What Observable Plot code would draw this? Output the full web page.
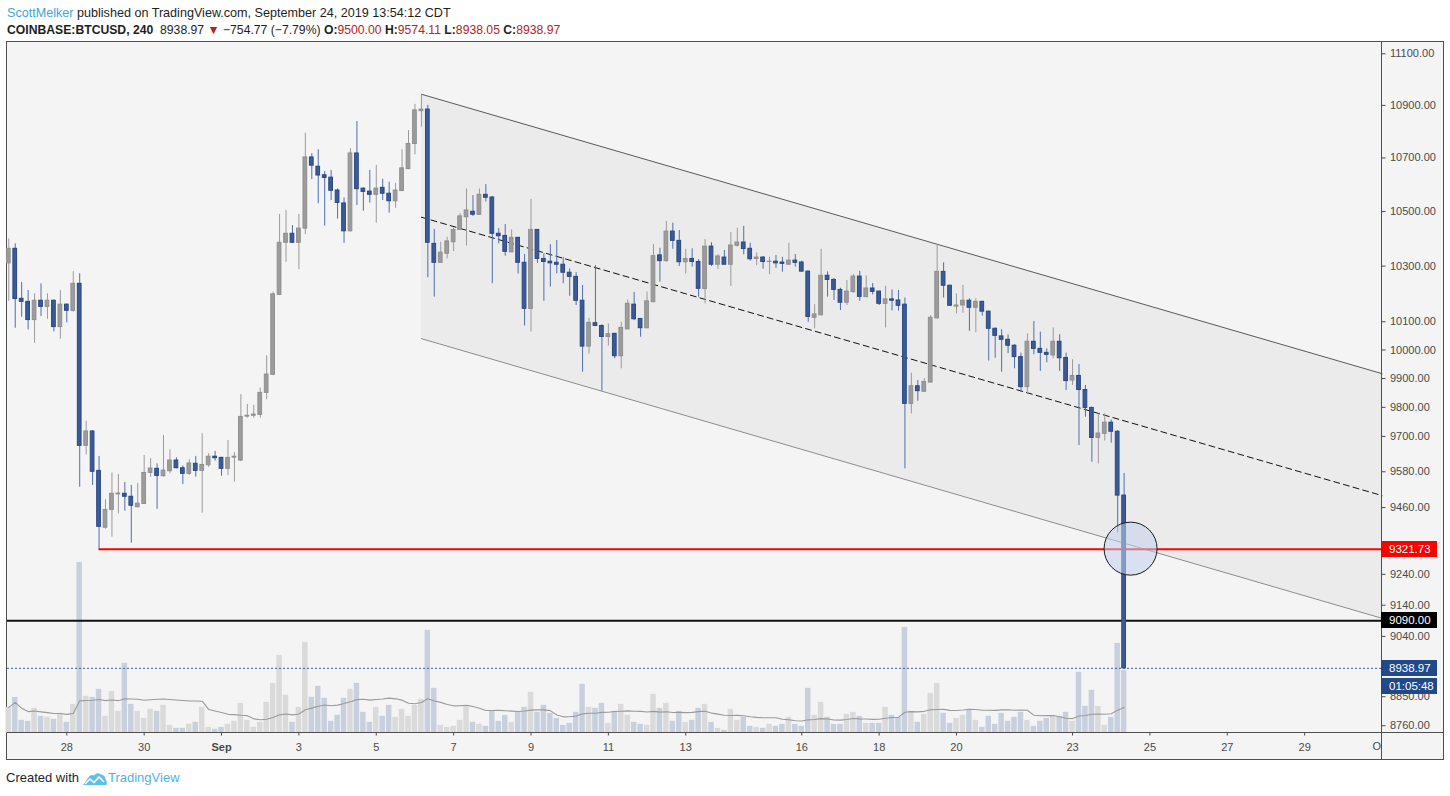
<!DOCTYPE html>
<html>
<head>
<meta charset="utf-8">
<script src="https://cdn.jsdelivr.net/npm/d3@7"></script>
<script src="https://cdn.jsdelivr.net/npm/@observablehq/plot@0.6"></script>
<style>
html,body{margin:0;padding:0;background:#fff;}
body{font-family:"Liberation Sans",Arial,sans-serif;}
#page{position:relative;width:1450px;height:796px;overflow:hidden;}
.line{position:absolute;left:7px;white-space:nowrap;line-height:16px;color:#1e1e1e;}
#frame{position:absolute;left:6px;top:41px;width:1436px;height:717px;border:1px solid #4f4f4f;background:#f4f4f4;}
.abs{position:absolute;}
.tag{position:absolute;left:1381px;width:56px;height:16px;line-height:16px;font-size:11.5px;color:#fff;padding-left:8px;box-sizing:border-box;white-space:nowrap;}
.red{color:#b52222;}
</style>
</head>
<body>
<div id="page">
  <div class="line" id="l1" style="top:5px;font-size:12.6px"></div>
  <div class="line" id="l2" style="top:22px;font-size:12.2px"></div>
  <div id="frame"></div>
  <div id="vol" class="abs" style="left:0;top:42px"></div>
  <div id="price" class="abs" style="left:0;top:42px"></div>
  <div class="abs" style="left:1381px;top:42px;width:1px;height:717px;background:#4f4f4f"></div>
  <div class="abs" style="left:7px;top:732px;width:1436px;height:1px;background:#4f4f4f"></div>
  <div id="edgeLabel" class="abs" style="left:0;top:733px;width:1381px;height:25px;"></div>
  <div id="tags"></div>
  <div class="abs" style="left:6px;top:770px;font-size:13px;line-height:16px;color:#1e1e1e;white-space:nowrap;display:flex;align-items:center;">
    <span>Created with</span>
    <svg width="26" height="15" viewBox="0 0 26 15" style="margin-left:3px">
      <path d="M1 14 L6 7 Q8 3 12 4.5 Q15 0.5 19 3.5 Q23 4 23.5 8 Q25.5 10 24.5 14 Z" fill="#5cc0ea"/>
      <path d="M3 13 L8 8 L12 11.5 L17 6 L22 11" fill="none" stroke="#fff" stroke-width="1.6"/>
    </svg>
    <span style="color:#4db3e6">TradingView</span>
  </div>
</div>
<script>
// ---------- data (4h candles, COINBASE:BTCUSD) ----------
const firstBarTime = "2019-08-26T12:00:00Z";
const barHours = 4;
const barOpen = [10310,10363,10182,10171,10106,10175,10153,10175,10081,10161,
10139,10236,9668,9717,9583,9393,9452,9504,9506,9496,
9461,9472,9576,9590,9565,9582,9618,9592,9573,9607,
9583,9602,9631,9627,9590,9628,9618,9768,9771,9774,
9850,9913,10196,10385,10418,10385,10437,10702,10667,10635,
10626,10578,10530,10427,10717,10585,10574,10562,10588,10566,
10538,10576,10658,10753,10878,10884,10381,10312,10345,10387,
10432,10479,10499,10488,10562,10552,10418,10410,10350,10403,
10312,10146,10432,10326,10316,10312,10305,10276,10261,10175,
10012,10095,10085,10046,10057,9978,10073,10161,10110,10077,
10170,10339,10318,10426,10392,10314,10326,10315,10217,10371,
10305,10331,10305,10374,10386,10363,10326,10331,10315,10316,
10313,10305,10320,10313,10280,10114,10123,10265,10250,10214,
10168,10206,10262,10188,10219,10208,10164,10180,10176,10161,
9812,9873,9854,9886,10112,10279,10229,10154,10158,10175,
10150,10171,10136,10075,10048,10036,10015,9975,9870,10029,
10004,9990,9981,10029,9972,9893,9909,9860,9798,9695,
9709,9747,9716,9500];
const barHigh = [10399,10381,10241,10212,10200,10236,10200,10178,10212,10164,
10280,10272,9752,9720,9632,9486,9576,9571,9544,9534,
9541,9635,9625,9607,9703,9654,9627,9600,9621,9632,
9709,9641,9649,9629,9686,9645,9844,9810,9807,9867,
9980,10206,10489,10504,10448,10489,10794,10716,10731,10649,
10653,10584,10550,10735,10838,10588,10653,10672,10620,10609,
10605,10731,10804,10904,10939,10900,10434,10387,10405,10439,
10492,10584,10559,10584,10600,10556,10437,10452,10432,10405,
10342,10545,10434,10345,10378,10393,10332,10290,10276,10230,
10112,10302,10089,10092,10059,10098,10178,10205,10111,10206,
10379,10365,10463,10457,10430,10361,10363,10324,10397,10385,
10342,10357,10423,10438,10445,10383,10348,10335,10332,10339,
10332,10383,10342,10318,10282,10161,10361,10279,10255,10220,
10248,10270,10281,10264,10237,10209,10227,10214,10212,10185,
9919,9893,9900,10122,10379,10312,10231,10200,10230,10182,
10182,10174,10138,10078,10072,10053,10019,9989,10057,10101,
10063,10004,10078,10054,9989,9966,9949,9876,9800,9777,
9778,9756,9720,9574.11];
const barLow = [10173,10077,10116,10071,10024,10119,10109,10064,10038,10096,
10134,9528,9637,9534,9321.73,9388,9362,9439,9448,9342,
9459,9470,9561,9454,9562,9573,9590,9537,9568,9562,
9441,9595,9616,9565,9567,9545,9614,9763,9763,9763,
9826,9910,10194,10314,10383,10287,10415,10619,10529,10446,
10541,10472,10383,10425,10522,10501,10531,10457,10541,10494,
10512,10574,10656,10712,10817,10258,10188,10310,10326,10353,
10430,10373,10482,10485,10535,10236,10381,10336,10349,10271,
10085,10063,10310,10173,10224,10272,10236,10191,10158,9922,
9985,10083,9856,10014,9969,9934,10072,10104,10045,10075,
10168,10242,10314,10361,10299,10271,10296,10188,10164,10299,
10288,10303,10227,10369,10341,10318,10302,10289,10269,10292,
10278,10303,10296,10278,10098,10075,10121,10188,10176,10140,
10158,10202,10173,10186,10196,10158,10078,10139,10138,9590,
9777,9821,9852,9884,10110,10185,10155,10128,10130,10066,
10061,10120,9961,9971,9922,9987,9934,9852,9847,9983,
9925,9955,9969,9925,9858,9876,9669,9766,9612,9607,
9684,9677,9376,8938.05];
const barClose = [10363,10181,10171,10106,10175,10153,10175,10081,10161,10139,
10236,9668,9717,9580,9396,9452,9506,9507,9496,9466,
9473,9576,9591,9566,9584,9618,9592,9573,9608,9583,
9603,9631,9626,9590,9627,9631,9767,9771,9775,9850,
9914,10198,10385,10418,10385,10437,10702,10671,10634,10625,
10577,10532,10427,10717,10583,10573,10562,10585,10566,10538,
10578,10661,10753,10881,10884,10385,10312,10349,10390,10432,
10482,10504,10488,10562,10551,10418,10409,10352,10403,10312,
10146,10432,10326,10315,10310,10305,10276,10261,10175,10012,
10096,10085,10046,10056,9978,10078,10164,10109,10077,10173,
10336,10318,10426,10392,10314,10326,10315,10218,10371,10305,
10335,10305,10375,10386,10362,10325,10331,10315,10316,10310,
10308,10320,10312,10280,10117,10126,10265,10250,10214,10168,
10208,10262,10189,10219,10207,10164,10180,10175,10157,9812,
9873,9856,9888,10114,10279,10229,10157,10158,10175,10150,
10171,10136,10075,10050,10036,10015,9975,9870,10029,10004,
9990,9983,10029,9971,9891,9909,9860,9798,9695,9710,
9747,9716,9500,8938.97];
const barVolume = [770,1070,380,350,740,500,470,410,590,320,
860,5120,1100,1070,1310,500,1250,650,2090,860,
650,440,710,650,830,230,140,140,260,320,
770,170,110,170,260,350,890,380,170,320,
920,1490,2330,1130,320,770,2720,1070,1400,1040,
350,530,1040,1310,1490,620,320,770,500,830,
470,710,500,830,1010,3080,1340,230,170,200,
380,770,320,260,200,650,350,530,320,620,
770,1220,620,830,590,440,230,290,620,1460,
770,740,890,290,650,860,530,320,260,230,
1160,740,890,350,650,320,380,740,860,320,
140,80,710,380,470,200,170,140,260,200,
260,470,260,200,1340,530,920,470,260,260,
560,620,500,290,290,290,770,530,470,3170,
650,320,560,1190,1490,590,290,440,530,710,
380,170,500,260,590,350,470,620,380,200,
350,440,500,500,620,350,1820,800,1280,800,
230,470,2690,1880];

const xDomainStart = "2019-08-26T11:12:00Z";
const xDomainEnd = "2019-10-01T00:00:00Z";
const priceDomain = [8737.6, 11144.3];
const volumeDomain = [0, 20715];
const priceTicks = [11100,10900,10700,10500,10300,10100,10000,9900,9800,9700,9580,9460,9340,9240,9140,9040,8950,8850,8760];
const dayTickDates = ["2019-08-28","2019-08-30","2019-09-01","2019-09-03","2019-09-05","2019-09-07","2019-09-09","2019-09-11","2019-09-13","2019-09-16","2019-09-18","2019-09-20","2019-09-23","2019-09-25","2019-09-27","2019-09-29","2019-10-01"];
const dayTickLabels = ["28","30","Sep","3","5","7","9","11","13","16","18","20","23","25","27","29","Oct"];

const channelDates = ["2019-09-06T04:00:00Z","2019-10-01T00:00:00Z"];
const channelUpper = [10943, 9917];
const channelMid = [10479, 9500];
const channelLower = [10040, 9098];
const supportLevel = 9321.73;
const supportStart = "2019-08-28T20:00:00Z";
const blackLevel = 9090;
const circleMark = [{date: "2019-09-24T12:00:00Z", price: 9324}];
const countdown = "01:05:48";
const symbolText = "COINBASE:BTCUSD, 240";
const changeText = "\u2212754.77 (\u22127.79%)";

// ---------- build tables ----------
const t0 = new Date(firstBarTime);
const hoff = (d, h) => new Date(+d + h * 3600e3);
const bars = barOpen.map((o, i) => ({
  date: hoff(t0, i * barHours),
  open: o, high: barHigh[i], low: barLow[i], close: barClose[i],
  volume: barVolume[i], up: barClose[i] >= o
}));
const channel = channelDates.map((d, i) => ({date: new Date(d), upper: channelUpper[i], mid: channelMid[i], lower: channelLower[i]}));
const circ = circleMark.map(d => ({date: new Date(d.date), price: d.price}));
const xStart = new Date(xDomainStart), xEnd = new Date(xDomainEnd);
const tickDates = dayTickDates.map(d => new Date(d + "T00:00:00Z"));
const labelMap = new Map(tickDates.map((d, i) => [+d, dayTickLabels[i]]));
const last = bars[bars.length - 1];
// price tags drawn on the axis hide the tick labels that sit beneath them
const tagLevels = [supportLevel, blackLevel, last.close];
const visibleTickLabels = priceTicks.filter(t => !tagLevels.some(v => Math.abs(Math.log(t / v)) < 0.0025));

const W = 1450, H = 717, mL = 7, mR = 68.5, mT = 0, mB = 26.5;
const common = {width: W, height: H, marginLeft: mL, marginRight: mR, marginTop: mT, marginBottom: mB};
const fontStyle = {background: "transparent", fontFamily: "'Liberation Sans', Arial, sans-serif", fontSize: "11px", color: "#4a4a4a", overflow: "visible"};

// ---------- volume layer ----------
const volPlot = Plot.plot({
  ...common,
  style: fontStyle,
  x: {type: "utc", domain: [xStart, xEnd], axis: null},
  y: {domain: volumeDomain, axis: null},
  color: {type: "identity"},
  marks: [
    Plot.rect(bars, {x1: d => hoff(d.date, -1.7), x2: d => hoff(d.date, 1.7), y1: 0, y2: "volume",
      fill: d => d.up ? "#dadada" : "#c8d0de"}),
    Plot.lineY(bars, Plot.windowY({k: 20, anchor: "end", reduce: "mean"},
      {x: "date", y: "volume", stroke: "#9a9a9a", strokeWidth: 1.1}))
  ]
});
document.getElementById("vol").appendChild(volPlot);

// ---------- price layer ----------
const pricePlot = Plot.plot({
  ...common,
  style: fontStyle,
  x: {type: "utc", domain: [xStart, xEnd], ticks: tickDates.filter(d => d < xEnd),
      tickFormat: d => labelMap.get(+d), tickSize: 3, tickPadding: 7, label: null},
  y: {type: "log", domain: priceDomain, axis: null},
  color: {type: "identity"},
  marks: [
    Plot.areaY(channel, {x: "date", y1: "lower", y2: "upper", fill: "#ebebeb"}),
    Plot.line(channel, {x: "date", y: "upper", stroke: "#5a5a5a", strokeWidth: 1}),
    Plot.line(channel, {x: "date", y: "lower", stroke: "#8c8c8c", strokeWidth: 1}),
    Plot.line(channel, {x: "date", y: "mid", stroke: "#111", strokeWidth: 1, strokeDasharray: "6,4"}),
    Plot.ruleY([supportLevel], {x1: new Date(supportStart), x2: xEnd, stroke: "#ff0000", strokeWidth: 2}),
    Plot.ruleY([blackLevel], {stroke: "#111", strokeWidth: 2}),
    Plot.ruleY([last.close], {stroke: "#3b5c9c", strokeWidth: 1, strokeDasharray: "2,2"}),
    Plot.ruleX(bars, {x: "date", y1: "low", y2: "high", stroke: d => d.up ? "#9a9a9a" : "#4f6fab", strokeWidth: 1}),
    Plot.rect(bars, {x1: d => hoff(d.date, -1.15), x2: d => hoff(d.date, 1.15),
      y1: d => Math.min(d.open, d.close), y2: d => Math.max(d.open, d.close),
      fill: d => d.up ? "#9c9c9c" : "#3b5b97", stroke: d => d.up ? "#8f8f8f" : "#294784", strokeWidth: 1}),
    Plot.dot(circ, {x: "date", y: "price", r: 26.5, fill: "#c3d1ee", fillOpacity: 0.55, stroke: "#1a1a1a", strokeWidth: 1}),
    // right-hand price axis: tick marks and labels
    Plot.ruleY(priceTicks, {x1: xEnd, x2: hoff(xEnd, 2.5), stroke: "#4a4a4a", strokeWidth: 1}),
    Plot.text(visibleTickLabels, {x: xEnd, y: d => d, text: d => d.toFixed(2), dx: 8, textAnchor: "start", fill: "#4a4a4a"})
  ]
});
document.getElementById("price").appendChild(pricePlot);

// bold month label
d3.select(pricePlot).selectAll("text").filter(function () { return this.textContent === "Sep"; })
  .attr("font-weight", "bold");

// edge label at the right boundary: only its first letter shows before the price axis
const xs = pricePlot.scale("x"), ys = pricePlot.scale("y");
tickDates.forEach((d, i) => {
  if (+d >= +xEnd) {
    const s = document.createElement("span");
    s.textContent = dayTickLabels[i].charAt(0);
    s.style.cssText = "position:absolute;top:7px;font-size:11px;color:#4a4a4a;font-family:'Liberation Sans',Arial,sans-serif;white-space:nowrap;";
    s.style.left = (xs.apply(d) - 9) + "px";
    document.getElementById("edgeLabel").appendChild(s);
  }
});

// price tags on the axis
const tags = document.getElementById("tags");
function addTag(value, text, bg, offset) {
  const t = document.createElement("div");
  t.className = "tag";
  t.style.background = bg;
  t.style.top = (42 + ys.apply(value) - 8 + (offset || 0)) + "px";
  t.textContent = text;
  tags.appendChild(t);
}
addTag(supportLevel, supportLevel.toFixed(2), "#ff0000");
addTag(blackLevel, blackLevel.toFixed(2), "#000000");
addTag(last.close, last.close.toFixed(2), "#21498a");
addTag(last.close, countdown, "#21498a", 18);

// header
document.getElementById("l1").innerHTML =
  '<span style="color:#3ba6dc">ScottMelker</span> published on TradingView.com, September 24, 2019 13:54:12 CDT';
document.getElementById("l2").innerHTML =
  '<b>' + symbolText + '</b>&nbsp; ' + last.close.toFixed(2) +
  ' <span class="red">\u25BC</span> ' + changeText +
  ' <b>O:</b><span class="red">' + last.open.toFixed(2) + '</span>' +
  ' <b>H:</b><span class="red">' + last.high.toFixed(2) + '</span>' +
  ' <b>L:</b><span class="red">' + last.low.toFixed(2) + '</span>' +
  ' <b>C:</b><span class="red">' + last.close.toFixed(2) + '</span>';
</script>
</body>
</html>
